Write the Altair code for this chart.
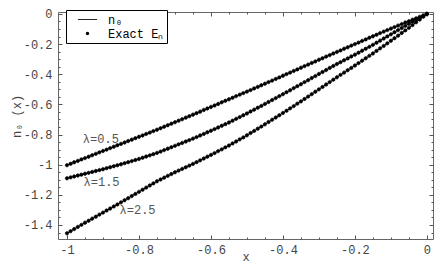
import json
import altair as alt
import pandas as pd

# ---- data ----
x_vals = [
    -1.00,
    -0.99, -0.98, -0.97, -0.96, -0.95,
    -0.94, -0.93, -0.92, -0.91, -0.90,
    -0.89, -0.88, -0.87, -0.86, -0.85,
    -0.84, -0.83, -0.82, -0.81, -0.80,
    -0.79, -0.78, -0.77, -0.76, -0.75,
    -0.74, -0.73, -0.72, -0.71, -0.70,
    -0.69, -0.68, -0.67, -0.66, -0.65,
    -0.64, -0.63, -0.62, -0.61, -0.60,
    -0.59, -0.58, -0.57, -0.56, -0.55,
    -0.54, -0.53, -0.52, -0.51, -0.50,
    -0.49, -0.48, -0.47, -0.46, -0.45,
    -0.44, -0.43, -0.42, -0.41, -0.40,
    -0.39, -0.38, -0.37, -0.36, -0.35,
    -0.34, -0.33, -0.32, -0.31, -0.30,
    -0.29, -0.28, -0.27, -0.26, -0.25,
    -0.24, -0.23, -0.22, -0.21, -0.20,
    -0.19, -0.18, -0.17, -0.16, -0.15,
    -0.14, -0.13, -0.12, -0.11, -0.10,
    -0.09, -0.08, -0.07, -0.06, -0.05,
    -0.04, -0.03, -0.02, -0.01, 0.00,
]

y_lam05 = [
    -1.003,
    -0.994, -0.984, -0.975, -0.965, -0.956,
    -0.947, -0.937, -0.928, -0.918, -0.909,
    -0.900, -0.890, -0.881, -0.871, -0.862,
    -0.853, -0.843, -0.834, -0.824, -0.815,
    -0.806, -0.796, -0.787, -0.777, -0.768,
    -0.758, -0.748, -0.738, -0.728, -0.718,
    -0.708, -0.698, -0.688, -0.678, -0.668,
    -0.658, -0.648, -0.637, -0.627, -0.617,
    -0.607, -0.597, -0.586, -0.576, -0.566,
    -0.556, -0.545, -0.535, -0.525, -0.515,
    -0.505, -0.494, -0.484, -0.473, -0.463,
    -0.452, -0.442, -0.431, -0.421, -0.410,
    -0.399, -0.389, -0.378, -0.368, -0.357,
    -0.346, -0.336, -0.325, -0.315, -0.304,
    -0.294, -0.283, -0.273, -0.262, -0.252,
    -0.242, -0.231, -0.221, -0.210, -0.200,
    -0.190, -0.179, -0.169, -0.158, -0.148,
    -0.138, -0.127, -0.117, -0.107, -0.097,
    -0.087, -0.077, -0.067, -0.057, -0.048,
    -0.038, -0.029, -0.019, -0.010, 0.000,
]

y_lam15 = [
    -1.090,
    -1.084, -1.078, -1.072, -1.066, -1.060,
    -1.054, -1.048, -1.042, -1.036, -1.030,
    -1.023, -1.017, -1.010, -1.004, -0.997,
    -0.990, -0.983, -0.976, -0.969, -0.962,
    -0.954, -0.946, -0.938, -0.930, -0.922,
    -0.913, -0.903, -0.894, -0.884, -0.875,
    -0.865, -0.856, -0.846, -0.837, -0.827,
    -0.817, -0.806, -0.796, -0.785, -0.775,
    -0.764, -0.753, -0.742, -0.731, -0.720,
    -0.708, -0.696, -0.684, -0.672, -0.660,
    -0.647, -0.635, -0.622, -0.610, -0.597,
    -0.584, -0.571, -0.558, -0.545, -0.532,
    -0.519, -0.506, -0.492, -0.479, -0.466,
    -0.452, -0.439, -0.425, -0.412, -0.398,
    -0.385, -0.372, -0.358, -0.345, -0.332,
    -0.320, -0.307, -0.295, -0.282, -0.270,
    -0.257, -0.244, -0.231, -0.218, -0.205,
    -0.191, -0.177, -0.163, -0.149, -0.135,
    -0.121, -0.107, -0.093, -0.079, -0.065,
    -0.052, -0.039, -0.026, -0.013, 0.000,
]

y_lam25 = [
    -1.455,
    -1.441, -1.427, -1.413, -1.399, -1.385,
    -1.372, -1.358, -1.345, -1.331, -1.318,
    -1.304, -1.291, -1.277, -1.264, -1.250,
    -1.236, -1.222, -1.208, -1.194, -1.180,
    -1.166, -1.152, -1.138, -1.124, -1.110,
    -1.098, -1.086, -1.074, -1.062, -1.050,
    -1.039, -1.028, -1.017, -1.006, -0.995,
    -0.983, -0.971, -0.959, -0.947, -0.935,
    -0.923, -0.910, -0.898, -0.885, -0.873,
    -0.859, -0.846, -0.832, -0.819, -0.805,
    -0.790, -0.776, -0.761, -0.747, -0.732,
    -0.717, -0.702, -0.687, -0.672, -0.657,
    -0.642, -0.626, -0.611, -0.595, -0.580,
    -0.564, -0.548, -0.532, -0.516, -0.500,
    -0.484, -0.468, -0.452, -0.436, -0.420,
    -0.404, -0.389, -0.373, -0.358, -0.342,
    -0.326, -0.310, -0.294, -0.278, -0.262,
    -0.245, -0.228, -0.212, -0.195, -0.178,
    -0.161, -0.144, -0.126, -0.109, -0.092,
    -0.074, -0.055, -0.037, -0.018, 0.000,
]

curve_names = ["λ=0.5", "λ=1.5", "λ=2.5"]

label_text = ["λ=0.5", "λ=1.5", "λ=2.5"]
label_x = [-0.906, -0.904, -0.804]
label_y = [-0.829, -1.118, -1.303]

legend_names = ["n₀", "Exact Eₙ"]

x_ticks = [-1.0, -0.95, -0.9, -0.85, -0.8, -0.75, -0.7, -0.65, -0.6, -0.55,
           -0.5, -0.45, -0.4, -0.35, -0.3, -0.25, -0.2, -0.15, -0.1, -0.05, 0.0]
x_major = [-1.0, -0.8, -0.6, -0.4, -0.2, 0.0]
x_major_labels = ["-1", "-0.8", "-0.6", "-0.4", "-0.2", "0"]

y_ticks = [-1.45, -1.4, -1.35, -1.3, -1.25, -1.2, -1.15, -1.1, -1.05, -1.0,
           -0.95, -0.9, -0.85, -0.8, -0.75, -0.7, -0.65, -0.6, -0.55, -0.5,
           -0.45, -0.4, -0.35, -0.3, -0.25, -0.2, -0.15, -0.1, -0.05, 0.0]
y_major = [-1.4, -1.2, -1.0, -0.8, -0.6, -0.4, -0.2, 0.0]
y_major_labels = ["-1.4", "-1.2", "-1", "-0.8", "-0.6", "-0.4", "-0.2", "0"]

# ---- tables ----
rows = []
for name, ys in zip(curve_names, [y_lam05, y_lam15, y_lam25]):
    df_c = pd.DataFrame({"x": x_vals, "y": ys})
    df_c["curve"] = name
    rows.append(df_c)
curves = pd.concat(rows, ignore_index=True)
curves["kind"] = legend_names[1]

labels_df = pd.DataFrame({"x": label_x, "y": label_y, "text": label_text})

FONT = "Liberation Mono"
TICK_COLOR = "#555555"
LABEL_COLOR = "#444444"

LINE_PATH = "M-1.6,-0.07L1.6,-0.07L1.6,0.07L-1.6,0.07Z"
DOT_PATH = "M-0.28,0A0.28,0.28,0,1,0,0.28,0A0.28,0.28,0,1,0,-0.28,0Z"

x_scale = alt.Scale(domain=[-1.025, 0.017], nice=False, zero=False)
y_scale = alt.Scale(domain=[-1.493, 0.013], nice=False, zero=False)


def label_expr(majors, texts):
    return f"{json.dumps(texts)}[indexof({json.dumps(majors)}, datum.value)] || ''"


def tick_size(majors):
    return {"condition": {"test": f"indexof({json.dumps(majors)}, datum.value) >= 0",
                          "value": -4}, "value": -2}


x_bottom = alt.Axis(orient="bottom", values=x_ticks, labelExpr=label_expr(x_major, x_major_labels),
                    tickSize=tick_size(x_major), tickColor=TICK_COLOR, labelPadding=9,
                    domain=False, grid=False, labelFont=FONT, labelFontSize=12,
                    labelColor=LABEL_COLOR, labelFlush=False, labelOverlap=False,
                    title="x", titleFont=FONT, titleFontSize=12, titleFontWeight="normal",
                    titleColor=LABEL_COLOR, titleY=21, titleBaseline="alphabetic")
x_top = alt.Axis(orient="top", values=x_ticks, labels=False, tickSize=tick_size(x_major),
                 tickColor=TICK_COLOR, domain=False, grid=False, title=None)
y_left = alt.Axis(orient="left", values=y_ticks, labelExpr=label_expr(y_major, y_major_labels),
                  tickSize=tick_size(y_major), tickColor=TICK_COLOR, labelPadding=10,
                  domain=False, grid=False, labelFont=FONT, labelFontSize=12,
                  labelColor=LABEL_COLOR, labelFlush=False, labelOverlap=False,
                  title="n₀ (x)", titleFont=FONT, titleFontSize=12, titleFontWeight="normal",
                  titleColor=LABEL_COLOR, titleX=-42, titleY=104, titleAngle=270,
                  titleAlign="center", titleBaseline="middle")
y_right = alt.Axis(orient="right", values=y_ticks, labels=False, tickSize=tick_size(y_major),
                   tickColor=TICK_COLOR, domain=False, grid=False, title=None)

base = alt.Chart(curves)

lines = base.mark_line(color="black", strokeWidth=1).encode(
    x=alt.X("x:Q", scale=x_scale, axis=x_bottom),
    y=alt.Y("y:Q", scale=y_scale, axis=y_left),
    detail="curve:N",
)

points = base.mark_point(filled=True, size=144, color="black", stroke="black",
                         strokeWidth=0.7, opacity=1).encode(
    x=alt.X("x:Q", scale=x_scale, axis=x_top),
    y=alt.Y("y:Q", scale=y_scale, axis=y_right),
    shape=alt.Shape("kind:N",
                    scale=alt.Scale(domain=legend_names, range=[LINE_PATH, DOT_PATH]),
                    legend=alt.Legend(title=None, orient="none", legendX=8, legendY=-2,
                                      padding=3, symbolOffset=12, labelOffset=14,
                                      rowPadding=1, symbolSize=144,
                                      strokeColor="black", fillColor="white",
                                      symbolFillColor="black", symbolStrokeColor="black",
                                      symbolStrokeWidth=0.6,
                                      labelFont=FONT, labelFontSize=12, labelColor="black",
                                      labelLimit=200)),
)

texts = alt.Chart(labels_df).mark_text(font=FONT, fontSize=12, color="#555555",
                                       align="center", baseline="middle").encode(
    x=alt.X("x:Q", scale=x_scale, axis=None),
    y=alt.Y("y:Q", scale=y_scale, axis=None),
    text="text:N",
)

chart = alt.layer(lines, points, texts).resolve_axis(
    x="independent", y="independent"
).properties(
    width=375, height=227,
    autosize=alt.AutoSizeParams(type="none"),
    padding={"left": 50, "top": 4, "right": 1, "bottom": 26},
    background="white",
).configure_view(stroke="#666666", strokeWidth=1)

chart.save("out.html", embed_options={"renderer": "svg", "actions": False})
